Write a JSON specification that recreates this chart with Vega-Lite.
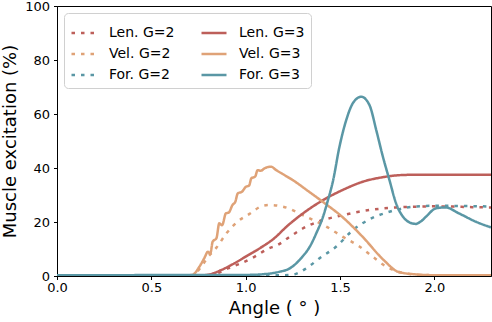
{
  "$schema": "https://vega.github.io/schema/vega-lite/v6.json",
  "width": 434,
  "height": 270,
  "autosize": {"type": "none"},
  "padding": {"left": 57, "top": 6, "right": 1, "bottom": 46},
  "config": {
    "font": "DejaVu Sans",
    "view": {"stroke": "#000000", "strokeWidth": 1},
    "axis": {
      "domainColor": "#000000",
      "tickColor": "#000000",
      "labelColor": "#000000",
      "titleColor": "#000000",
      "tickSize": 3.5,
      "labelFontSize": 13,
      "titleFontSize": 18,
      "titleFontWeight": "normal",
      "grid": false,
      "labelFont": "DejaVu Sans",
      "titleFont": "DejaVu Sans"
    },
    "legend": {
      "labelFont": "DejaVu Sans",
      "labelFontSize": 14,
      "labelColor": "#000000"
    }
  },
  "data": {
    "values": [
      {"series": "Len. G=2", "x": 0, "y": 0.3},
      {"series": "Len. G=2", "x": 0.5, "y": 0.3},
      {"series": "Len. G=2", "x": 0.8, "y": 0.3},
      {"series": "Len. G=2", "x": 0.85, "y": 1.0},
      {"series": "Len. G=2", "x": 0.905, "y": 2.8},
      {"series": "Len. G=2", "x": 0.975, "y": 4.7},
      {"series": "Len. G=2", "x": 1.046, "y": 7.1},
      {"series": "Len. G=2", "x": 1.116, "y": 10.0},
      {"series": "Len. G=2", "x": 1.17, "y": 11.5},
      {"series": "Len. G=2", "x": 1.233, "y": 14.5},
      {"series": "Len. G=2", "x": 1.3, "y": 17.5},
      {"series": "Len. G=2", "x": 1.39, "y": 20.3},
      {"series": "Len. G=2", "x": 1.5, "y": 22.3},
      {"series": "Len. G=2", "x": 1.6, "y": 23.8},
      {"series": "Len. G=2", "x": 1.71, "y": 24.9},
      {"series": "Len. G=2", "x": 1.8, "y": 25.4},
      {"series": "Len. G=2", "x": 1.92, "y": 25.7},
      {"series": "Len. G=2", "x": 2.0, "y": 25.8},
      {"series": "Len. G=2", "x": 2.1, "y": 25.7},
      {"series": "Len. G=2", "x": 2.2, "y": 25.5},
      {"series": "Len. G=2", "x": 2.3, "y": 25.4},

      {"series": "Vel. G=2", "x": 0, "y": 0.3},
      {"series": "Vel. G=2", "x": 0.72, "y": 0.3},
      {"series": "Vel. G=2", "x": 0.76, "y": 3.0},
      {"series": "Vel. G=2", "x": 0.8, "y": 7.0},
      {"series": "Vel. G=2", "x": 0.845, "y": 10.5},
      {"series": "Vel. G=2", "x": 0.9, "y": 16.0},
      {"series": "Vel. G=2", "x": 0.96, "y": 20.3},
      {"series": "Vel. G=2", "x": 1.02, "y": 23.0},
      {"series": "Vel. G=2", "x": 1.09, "y": 26.0},
      {"series": "Vel. G=2", "x": 1.13, "y": 26.3},
      {"series": "Vel. G=2", "x": 1.197, "y": 25.7},
      {"series": "Vel. G=2", "x": 1.32, "y": 22.0},
      {"series": "Vel. G=2", "x": 1.427, "y": 18.3},
      {"series": "Vel. G=2", "x": 1.513, "y": 14.6},
      {"series": "Vel. G=2", "x": 1.603, "y": 10.9},
      {"series": "Vel. G=2", "x": 1.674, "y": 7.1},
      {"series": "Vel. G=2", "x": 1.744, "y": 3.5},
      {"series": "Vel. G=2", "x": 1.83, "y": 1.2},
      {"series": "Vel. G=2", "x": 1.9, "y": 0.5},
      {"series": "Vel. G=2", "x": 2.0, "y": 0.3},
      {"series": "Vel. G=2", "x": 2.3, "y": 0.3},

      {"series": "For. G=2", "x": 0, "y": 0.3},
      {"series": "For. G=2", "x": 1.2, "y": 0.3},
      {"series": "For. G=2", "x": 1.25, "y": 0.5},
      {"series": "For. G=2", "x": 1.32, "y": 2.8},
      {"series": "For. G=2", "x": 1.39, "y": 6.5},
      {"series": "For. G=2", "x": 1.48, "y": 10.9},
      {"series": "For. G=2", "x": 1.568, "y": 17.0},
      {"series": "For. G=2", "x": 1.656, "y": 21.0},
      {"series": "For. G=2", "x": 1.762, "y": 23.8},
      {"series": "For. G=2", "x": 1.85, "y": 25.3},
      {"series": "For. G=2", "x": 1.94, "y": 25.9},
      {"series": "For. G=2", "x": 2.0, "y": 26.0},
      {"series": "For. G=2", "x": 2.25, "y": 25.8},
      {"series": "For. G=2", "x": 2.3, "y": 25.7},

      {"series": "Len. G=3", "x": 0, "y": 0.3},
      {"series": "Len. G=3", "x": 0.78, "y": 0.3},
      {"series": "Len. G=3", "x": 0.81, "y": 0.6},
      {"series": "Len. G=3", "x": 0.87, "y": 2.2},
      {"series": "Len. G=3", "x": 0.94, "y": 4.7},
      {"series": "Len. G=3", "x": 1.01, "y": 7.6},
      {"series": "Len. G=3", "x": 1.08, "y": 10.5},
      {"series": "Len. G=3", "x": 1.15, "y": 13.9},
      {"series": "Len. G=3", "x": 1.22, "y": 18.5},
      {"series": "Len. G=3", "x": 1.3, "y": 23.0},
      {"series": "Len. G=3", "x": 1.41, "y": 28.1},
      {"series": "Len. G=3", "x": 1.515, "y": 31.9},
      {"series": "Len. G=3", "x": 1.62, "y": 34.9},
      {"series": "Len. G=3", "x": 1.727, "y": 36.6},
      {"series": "Len. G=3", "x": 1.83, "y": 37.4},
      {"series": "Len. G=3", "x": 1.9, "y": 37.5},
      {"series": "Len. G=3", "x": 2.0, "y": 37.5},
      {"series": "Len. G=3", "x": 2.3, "y": 37.5},

      {"series": "Vel. G=3", "x": 0, "y": 0.3},
      {"series": "Vel. G=3", "x": 0.7, "y": 0.3},
      {"series": "Vel. G=3", "x": 0.72, "y": 0.5},
      {"series": "Vel. G=3", "x": 0.755, "y": 3.5},
      {"series": "Vel. G=3", "x": 0.78, "y": 6.5},
      {"series": "Vel. G=3", "x": 0.8, "y": 9.0},
      {"series": "Vel. G=3", "x": 0.812, "y": 8.2},
      {"series": "Vel. G=3", "x": 0.825, "y": 12.7},
      {"series": "Vel. G=3", "x": 0.845, "y": 14.0},
      {"series": "Vel. G=3", "x": 0.86, "y": 19.5},
      {"series": "Vel. G=3", "x": 0.875, "y": 18.8},
      {"series": "Vel. G=3", "x": 0.895, "y": 23.2},
      {"series": "Vel. G=3", "x": 0.91, "y": 23.5},
      {"series": "Vel. G=3", "x": 0.93, "y": 26.3},
      {"series": "Vel. G=3", "x": 0.945, "y": 27.5},
      {"series": "Vel. G=3", "x": 0.958, "y": 30.6},
      {"series": "Vel. G=3", "x": 0.98, "y": 31.2},
      {"series": "Vel. G=3", "x": 1.0, "y": 33.0},
      {"series": "Vel. G=3", "x": 1.018, "y": 33.5},
      {"series": "Vel. G=3", "x": 1.03, "y": 36.2},
      {"series": "Vel. G=3", "x": 1.05, "y": 36.8},
      {"series": "Vel. G=3", "x": 1.063, "y": 39.2},
      {"series": "Vel. G=3", "x": 1.08, "y": 39.0},
      {"series": "Vel. G=3", "x": 1.1, "y": 39.9},
      {"series": "Vel. G=3", "x": 1.134, "y": 40.5},
      {"series": "Vel. G=3", "x": 1.16, "y": 39.3},
      {"series": "Vel. G=3", "x": 1.205, "y": 37.4},
      {"series": "Vel. G=3", "x": 1.25, "y": 35.5},
      {"series": "Vel. G=3", "x": 1.33, "y": 31.5},
      {"series": "Vel. G=3", "x": 1.41, "y": 27.4},
      {"series": "Vel. G=3", "x": 1.51, "y": 22.0},
      {"series": "Vel. G=3", "x": 1.62, "y": 14.5},
      {"series": "Vel. G=3", "x": 1.73, "y": 6.0},
      {"series": "Vel. G=3", "x": 1.81, "y": 1.5},
      {"series": "Vel. G=3", "x": 1.9, "y": 0.6},
      {"series": "Vel. G=3", "x": 2.0, "y": 0.3},
      {"series": "Vel. G=3", "x": 2.3, "y": 0.3},

      {"series": "For. G=3", "x": 0, "y": 0.3},
      {"series": "For. G=3", "x": 1.0, "y": 0.4},
      {"series": "For. G=3", "x": 1.1, "y": 0.7},
      {"series": "For. G=3", "x": 1.18, "y": 1.6},
      {"series": "For. G=3", "x": 1.233, "y": 2.8},
      {"series": "For. G=3", "x": 1.268, "y": 4.7},
      {"series": "For. G=3", "x": 1.3, "y": 7.1},
      {"series": "For. G=3", "x": 1.34, "y": 10.9},
      {"series": "For. G=3", "x": 1.374, "y": 15.8},
      {"series": "For. G=3", "x": 1.41, "y": 22.0},
      {"series": "For. G=3", "x": 1.436, "y": 28.1},
      {"series": "For. G=3", "x": 1.462, "y": 35.0},
      {"series": "For. G=3", "x": 1.497, "y": 47.9},
      {"series": "For. G=3", "x": 1.533, "y": 57.8},
      {"series": "For. G=3", "x": 1.568, "y": 64.0},
      {"series": "For. G=3", "x": 1.612, "y": 66.4},
      {"series": "For. G=3", "x": 1.656, "y": 63.3},
      {"series": "For. G=3", "x": 1.692, "y": 54.0},
      {"series": "For. G=3", "x": 1.727, "y": 44.2},
      {"series": "For. G=3", "x": 1.762, "y": 35.5},
      {"series": "For. G=3", "x": 1.797, "y": 26.9},
      {"series": "For. G=3", "x": 1.84, "y": 21.4},
      {"series": "For. G=3", "x": 1.87, "y": 19.8},
      {"series": "For. G=3", "x": 1.9, "y": 19.3},
      {"series": "For. G=3", "x": 1.93, "y": 20.3},
      {"series": "For. G=3", "x": 1.956, "y": 22.0},
      {"series": "For. G=3", "x": 2.01, "y": 25.1},
      {"series": "For. G=3", "x": 2.06, "y": 25.4},
      {"series": "For. G=3", "x": 2.13, "y": 23.2},
      {"series": "For. G=3", "x": 2.22, "y": 20.1},
      {"series": "For. G=3", "x": 2.3, "y": 18.0}
    ]
  },
  "mark": {"type": "line", "strokeWidth": 2.5, "interpolate": "monotone", "clip": true, "strokeCap": "butt"},
  "encoding": {
    "x": {
      "field": "x",
      "type": "quantitative",
      "scale": {"domain": [0, 2.3], "nice": false, "zero": false},
      "axis": {
        "title": "Angle ( ° )",
        "values": [0, 0.5, 1, 1.5, 2],
        "format": ".1f",
        "labelPadding": 2,
        "titlePadding": 5,
        "labelFlush": false
      }
    },
    "y": {
      "field": "y",
      "type": "quantitative",
      "scale": {"domain": [0, 100], "nice": false},
      "axis": {
        "title": "Muscle excitation (%)",
        "values": [0, 20, 40, 60, 80, 100],
        "labelPadding": 4,
        "titlePadding": 5,
        "labelFlush": false
      }
    },
    "color": {
      "field": "series",
      "type": "nominal",
      "scale": {
        "domain": ["Len. G=2", "Vel. G=2", "For. G=2", "Len. G=3", "Vel. G=3", "For. G=3"],
        "range": ["#bd5f5a", "#dfa277", "#5a97a5", "#bd5f5a", "#dfa277", "#5a97a5"]
      },
      "legend": {
        "title": null,
        "orient": "top-left",
        "offset": 7,
        "columns": 2,
        "columnPadding": 21,
        "rowPadding": -7,
        "padding": 6,
        "symbolType": "stroke",
        "symbolSize": 625,
        "symbolStrokeWidth": 2.5,
        "labelOffset": 11,
        "fillColor": "#ffffff",
        "strokeColor": "#d0d0d0",
        "cornerRadius": 4
      }
    },
    "strokeDash": {
      "field": "series",
      "type": "nominal",
      "scale": {
        "domain": ["Len. G=2", "Vel. G=2", "For. G=2", "Len. G=3", "Vel. G=3", "For. G=3"],
        "range": [[3.5, 6], [3.5, 6], [3.5, 6], [1, 0], [1, 0], [1, 0]]
      },
      "legend": null
    }
  }
}
